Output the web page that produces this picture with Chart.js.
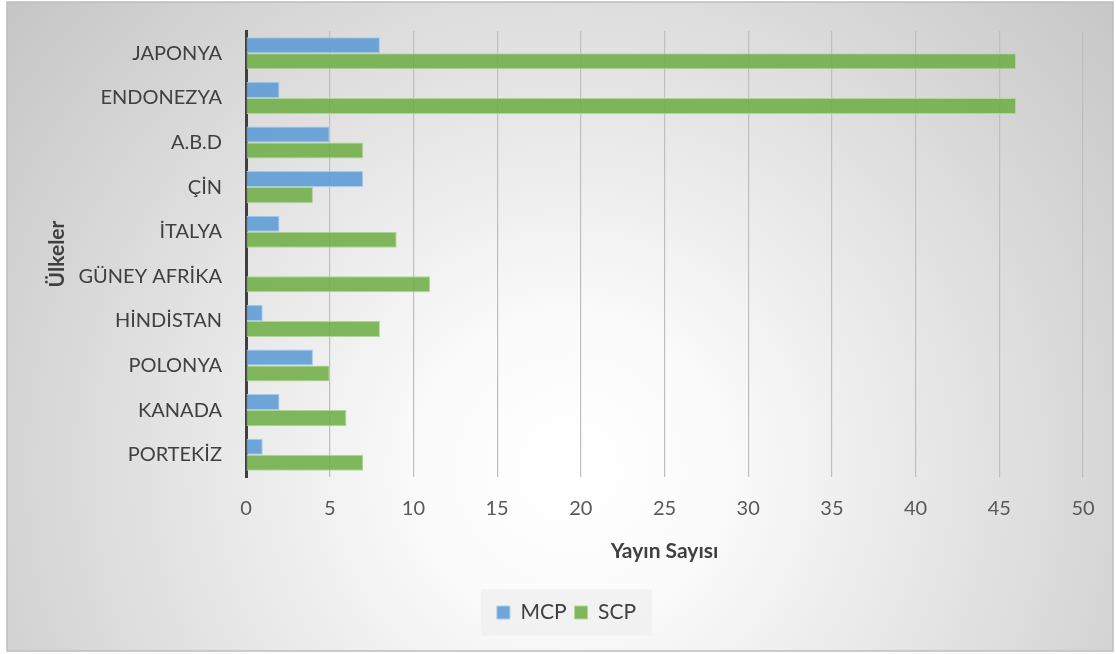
<!DOCTYPE html>
<html>
<head>
<meta charset="utf-8">
<script src="https://cdn.jsdelivr.net/npm/chart.js@4"></script>
<style>
  html, body { margin: 0; padding: 0; background: #fff; }
  #wrap { width: 1116px; height: 654px; }
</style>
</head>
<body>
<div id="wrap"><canvas id="chart" width="1116" height="654"></canvas></div>
<script>
// countries, top to bottom
const countries = ["JAPONYA", "ENDONEZYA", "A.B.D", "ÇİN", "İTALYA", "GÜNEY AFRİKA", "HİNDİSTAN", "POLONYA", "KANADA", "PORTEKİZ"];
const mcpValues = [8, 2, 5, 7, 2, 0, 1, 4, 2, 1];
const scpValues = [46, 46, 7, 4, 9, 11, 8, 5, 6, 7];
const xTicks = [0, 5, 10, 15, 20, 25, 30, 35, 40, 45, 50];

const FONT = "Lato, 'Open Sans', sans-serif";

// gradient panel, border and legend box behind everything
const backdrop = {
  id: "backdrop",
  afterLayout(chart) {
    // legend sits under the middle of the whole panel, not the plot
    const lg = chart.legend;
    if (lg) { lg.left += 21; lg.right += 21; }
  },
  beforeDraw(chart) {
    const c = chart.ctx;
    c.save();
    c.fillStyle = "#fff";
    c.fillRect(0, 0, chart.width, chart.height);
    const g = c.createRadialGradient(570, 470, 0, 570, 470, 720);
    g.addColorStop(0, "#ffffff");
    g.addColorStop(0.2, "#fbfbfb");
    g.addColorStop(1, "#c6c6c6");
    c.fillStyle = g;
    c.fillRect(7, 2, 1106, 649);
    c.strokeStyle = "#bdbdbd";
    c.lineWidth = 1.5;
    c.strokeRect(7, 2, 1106, 649);

    const boxes = chart.legend && chart.legend.legendHitBoxes;
    if (boxes && boxes.length) {
      const x0 = Math.min(...boxes.map(b => b.left)) - 16;
      const x1 = Math.max(...boxes.map(b => b.left + b.width)) + 16;
      const cy = boxes[0].top + boxes[0].height / 2;
      c.fillStyle = "rgba(240,240,240,0.85)";
      c.fillRect(x0, cy - 23, x1 - x0, 46);
    }
    c.restore();
  }
};

new Chart(document.getElementById("chart"), {
  type: "bar",
  data: {
    labels: countries,
    datasets: [
      {
        label: "MCP",
        data: mcpValues,
        backgroundColor: "rgba(91,155,213,0.88)",
        borderColor: "#a9cbea",
        borderWidth: 1,
        borderSkipped: false,
        categoryPercentage: 0.72,
        barPercentage: 1
      },
      {
        label: "SCP",
        data: scpValues,
        backgroundColor: "rgba(112,173,71,0.88)",
        borderColor: "#b2d69a",
        borderWidth: 1,
        borderSkipped: false,
        categoryPercentage: 0.72,
        barPercentage: 1
      }
    ]
  },
  options: {
    indexAxis: "y",
    responsive: false,
    animation: false,
    layout: { padding: { left: 8, right: 33, top: 31, bottom: 21 } },
    scales: {
      x: {
        min: 0,
        max: 50,
        afterBuildTicks: (axis) => { axis.ticks = xTicks.map(v => ({ value: v })); },
        afterFit: (axis) => { axis.height = 117; },
        grid: { color: "#bfbfbf", lineWidth: 1.2, drawTicks: false },
        border: { display: false },
        ticks: { padding: 20, color: "#595959", font: { family: FONT, size: 20 } },
        title: {
          display: true,
          text: "Yayın Sayısı",
          color: "#404040",
          padding: { top: 0, bottom: 30 },
          font: { family: FONT, size: 21, weight: "bold" }
        }
      },
      y: {
        afterFit: (axis) => {
          axis.width = 238;
          axis.paddingTop = 0;
          axis.paddingBottom = 0;
        },
        grid: { display: false, drawTicks: false },
        border: { display: true, color: "#404040", width: 3 },
        ticks: { padding: 24, color: "#404040", font: { family: FONT, size: 20 } },
        title: {
          display: true,
          text: "Ülkeler",
          color: "#404040",
          padding: { top: 37, bottom: 0 },
          font: { family: FONT, size: 21, weight: "bold" }
        }
      }
    },
    plugins: {
      legend: {
        position: "bottom",
        labels: {
          color: "#404040",
          font: { family: FONT, size: 21 },
          boxWidth: 13,
          boxHeight: 13,
          padding: 8
        }
      },
      tooltip: { enabled: false }
    }
  },
  plugins: [backdrop]
});
</script>
</body>
</html>
